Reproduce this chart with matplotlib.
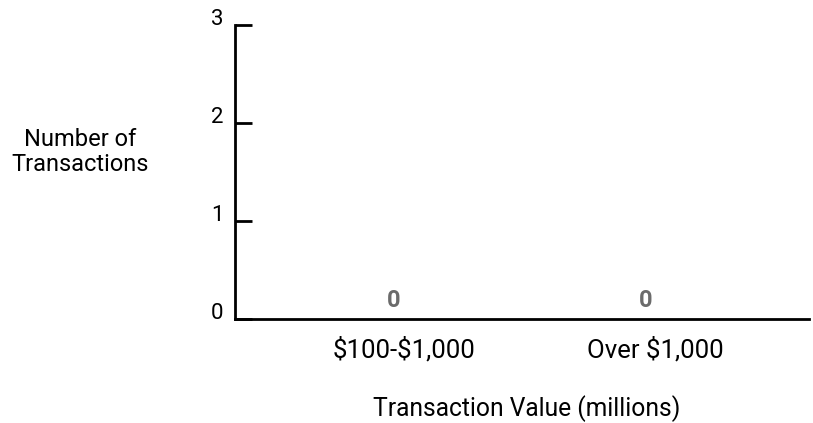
import matplotlib
matplotlib.use("Agg")
import matplotlib.pyplot as plt

categories = ["\\$100-\\$1,000", "Over \\$1,000"]
values = [0, 0]
y_ticks = [0, 1, 2, 3]

plt.rcParams['font.family'] = ['Roboto', 'DejaVu Sans']

fig = plt.figure(figsize=(8.13, 4.23), dpi=100)
W, H = 813, 423
ax = fig.add_axes([235 / W, 1 - 319 / H, (809 - 235) / W, (319 - 25) / H])

x = list(range(len(categories)))
ax.bar(x, values, width=0.5, color="#6b6b6b")
for xi, v in zip(x, values):
    ax.annotate(str(v), (xi, v), xytext=(-7.5, 8.6), textcoords="offset points",
                ha="center", va="baseline", fontsize=17, fontweight="bold", color="#6b6b6b")

ax.set_xlim(-0.673, 1.61)
ax.set_ylim(0, 3)
ax.set_yticks(y_ticks)
ax.set_yticklabels([str(t) for t in y_ticks], fontsize=16, va="baseline")
ax.set_xticks(x)
ax.set_xticklabels(categories, fontsize=18.5)
ax.tick_params(axis="y", direction="in", length=12, width=2, pad=8.5)
ax.tick_params(axis="x", length=0, pad=13)

for s in ["top", "right"]:
    ax.spines[s].set_visible(False)
for s in ["left", "bottom"]:
    ax.spines[s].set_linewidth(2)
    ax.spines[s].set_color("black")

fig.text(80 / W, 1 - 152 / H, "Number of\nTransactions", ha="center", va="center",
         fontsize=17, linespacing=1.15)
fig.text(527 / W, 1 - 416 / H, "Transaction Value (millions)", ha="center", va="baseline",
         fontsize=17.7)

fig.savefig("out.png", dpi=100)
